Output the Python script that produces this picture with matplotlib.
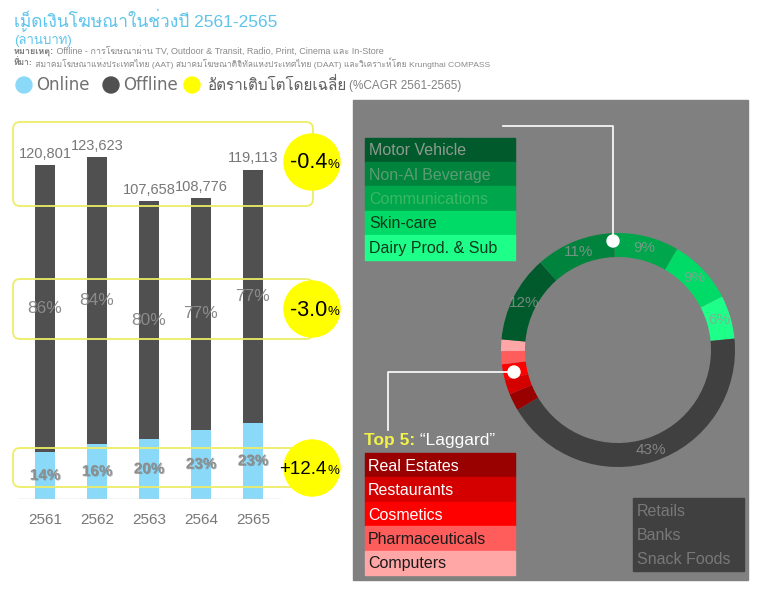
import numpy as np
import matplotlib
matplotlib.use('Agg')
import matplotlib.pyplot as plt
from matplotlib import font_manager
from matplotlib.patches import Rectangle, Circle, FancyBboxPatch
import matplotlib.patheffects as pe

# data
years = ['2561', '2562', '2563', '2564', '2565']
total = [120801, 123623, 107658, 108776, 119113]
online = [16912, 19780, 21532, 25018, 27396]
online_pct = ['14%', '16%', '20%', '23%', '23%']
offline_pct = ['86%', '84%', '80%', '77%', '77%']
cagr_main = ['-0.4', '-3.0', '+12.4']

donut_names = ['Communications', 'Skin-care', 'Dairy Prod. & Sub', 'Others',
               'Real Estates', 'Restaurants', 'Cosmetics', 'Pharmaceuticals',
               'Computers', 'Motor Vehicle', 'Non-Al Beverage']
donut_vals = [9, 9, 6, 43, 2.4, 2.0, 2.2, 1.8, 1.6, 12, 11]
donut_labels = ['9%', '9%', '6%', '43%', '', '', '', '', '', '12%', '11%']
donut_colors = ['#00a64b', '#00da66', '#1eff8a', '#404040', '#990000', '#d40000',
                '#ff0000', '#ff5c5c', '#ffa6a6', '#005a2b', '#00843d']

top_names = ['Motor Vehicle', 'Non-Al Beverage', 'Communications', 'Skin-care', 'Dairy Prod. & Sub']
top_colors = ['#005a2b', '#00843d', '#00a64b', '#00da66', '#1eff8a']
top_text = ['#8e9a90', '#5c9c72', '#3bb865', '#0c3a1c', '#0c3a1c']
lag_names = ['Real Estates', 'Restaurants', 'Cosmetics', 'Pharmaceuticals', 'Computers']
lag_colors = ['#990000', '#d40000', '#ff0000', '#ff5c5c', '#ffa6a6']
lag_text = ['white', 'white', 'white', '#1a1a1a', '#1a1a1a']
other_names = ['Retails', 'Banks', 'Snack Foods']


def find_thai_font():
    # pick any installed font that has Thai glyphs
    try:
        from fontTools.ttLib import TTFont
    except Exception:
        return None
    for f in font_manager.fontManager.ttflist:
        try:
            tt = TTFont(f.fname, fontNumber=0, lazy=True)
            if 0x0E01 in tt.getBestCmap():
                return f.name
        except Exception:
            pass
    return None

thai = find_thai_font()
fams = lambda first: [first] + ([thai] if thai else []) + ['DejaVu Sans']
SANS = fams('Liberation Sans')
DJV = fams('DejaVu Sans')
plt.rcParams['font.family'] = SANS

W, H = 762, 606
fig = plt.figure(figsize=(W / 100, H / 100), dpi=100)
fig.patch.set_facecolor('white')


def px_axes(x0, y0, x1, y1, z):
    ax = fig.add_axes([x0 / W, 1 - y1 / H, (x1 - x0) / W, (y1 - y0) / H], zorder=z)
    ax.set_facecolor('none')
    return ax


back = px_axes(0, 0, W, H, 0)
back.set_xlim(0, W)
back.set_ylim(H, 0)
back.axis('off')

# header
blue_t = '#5ec4ec'
back.text(14, 21, 'เม็ดเงินโฆษณาในช่วงปี 2561-2565', color=blue_t, fontsize=12.5, va='center')
back.text(14, 38, '(ล้านบาท)', color=blue_t, fontsize=9.5, va='center')
t1 = back.text(14, 52, 'หมายเหตุ:', color='#7a7a7a', fontsize=6.5, fontweight='bold', va='center')
back.annotate(' Offline - การโฆษณาผ่าน TV, Outdoor & Transit, Radio, Print, Cinema และ In-Store',
              xy=(1, 0.5), xycoords=t1, va='center', fontsize=6.5, color='#8a8a8a')
t2 = back.text(14, 63, 'ที่มา:', color='#7a7a7a', fontsize=6.1, fontweight='bold', va='center')
back.annotate(' สมาคมโฆษณาแห่งประเทศไทย (AAT) สมาคมโฆษณาดิจิทัลแห่งประเทศไทย (DAAT) และวิเคราะห์โดย Krungthai COMPASS',
              xy=(1, 0.5), xycoords=t2, va='center', fontsize=6.1, color='#8a8a8a')

# legend row
for cx, c in [(24, '#8ad9f8'), (111, '#505050'), (192, '#ffff00')]:
    back.add_patch(Circle((cx, 85), 8, color=c))
back.text(36, 85, 'Online', fontsize=12, color='#707070', va='center', family=DJV)
back.text(123, 85, 'Offline', fontsize=12, color='#707070', va='center', family=DJV)
back.text(208, 85, 'อัตราเติบโตโดยเฉลี่ย', fontsize=11, color='#606060', va='center')
back.text(349, 86, '(%CAGR 2561-2565)', fontsize=8.5, color='#808080', va='center')

# right panel background
back.add_patch(Rectangle((353, 100), 395, 480, color='#808080'))

# legends in the right panel
row = 24.4
for i, (n, c, tc) in enumerate(zip(top_names, top_colors, top_text)):
    y0 = 137.5 + i * row
    back.add_patch(Rectangle((365, y0), 150, row, color=c))
    back.text(369, y0 + row / 2 + 1, n, color=tc, fontsize=11.5, va='center')
for i, (n, c, tc) in enumerate(zip(lag_names, lag_colors, lag_text)):
    y0 = 453 + i * row
    back.add_patch(Rectangle((365, y0), 150, row, color=c))
    back.text(368, y0 + row / 2 + 1, n, color=tc, fontsize=11.5, va='center')
t3 = back.text(364, 440, 'Top 5:', color='#f2f24a', fontsize=12.5, fontweight='bold', va='center')
back.annotate(' \u201cLaggard\u201d', xy=(1, 0.5), xycoords=t3, va='center', fontsize=12.5, color='white')
back.add_patch(Rectangle((633, 498), 111, 73, color='#404040'))
for i, n in enumerate(other_names):
    back.text(637, 511 + i * 24.3, n, color='#787878', fontsize=11.5, va='center')

# bars
scale = 361.5
bx0, bx1, by0, by1 = 0, 354, 110, 499
ax = px_axes(bx0, by0, bx1, by1, 1)
x = np.arange(len(years))
offline = [t - o for t, o in zip(total, online)]
ax.bar(x, online, width=0.385, color='#8ad9f8')
ax.bar(x, offline, bottom=online, width=0.385, color='#505050')
ax.set_xlim(-45 / 52, (354 - 45) / 52)
ax.set_ylim(0, (by1 - by0) * scale)
for s in ax.spines.values():
    s.set_visible(False)
ax.set_yticks([])
ax.set_xticks(x, years)
ax.tick_params(axis='x', length=0, pad=10, labelsize=11, labelcolor='#777777')
ax.axhline(0, xmin=18 / 354, xmax=280 / 354, color='#cccccc', lw=1)
for i in range(len(years)):
    ax.annotate(f'{total[i]:,}', (x[i], total[i]), xytext=(0, 3), textcoords='offset points',
                ha='center', va='bottom', fontsize=10.5, color='#777777')
    ax.text(x[i], online[i] + offline[i] / 2, offline_pct[i], ha='center', va='center',
            fontsize=12.5, color='#8a8a8a')
    ax.text(x[i], online[i] / 2, online_pct[i], ha='center', va='center', fontsize=11,
            color='#8e8e8e', fontweight='bold',
            path_effects=[pe.withSimplePatchShadow(offset=(0.6, -0.6), shadow_rgbFace='#666666', alpha=0.5)])

# donut
cx, cy, r = 618, 350, 117
pax = px_axes(cx - r, cy - r, cx + r, cy + r, 2)
wedges, _ = pax.pie(donut_vals, colors=donut_colors, startangle=92, counterclock=False,
                    wedgeprops=dict(width=0.205, edgecolor='none'))
pax.set_xlim(-1, 1)
pax.set_ylim(-1, 1)
pax.set_aspect('equal')
for w, lab in zip(wedges, donut_labels):
    if lab:
        a = np.deg2rad((w.theta1 + w.theta2) / 2)
        pax.text(0.9 * np.cos(a), 0.9 * np.sin(a), lab, ha='center', va='center',
                 fontsize=11, color='#9a9a9a', alpha=0.75)

# front overlay: CAGR boxes, circles, pointer lines
front = px_axes(0, 0, W, H, 3)
front.set_xlim(0, W)
front.set_ylim(H, 0)
front.axis('off')
boxes = [(122, 206), (279, 339), (448, 487)]
centers = [162, 309, 468]
sizes = [15.5, 15.5, 13.5]
for (y0, y1), cyy, txt, fs in zip(boxes, centers, cagr_main, sizes):
    front.add_patch(FancyBboxPatch((13, y0), 300, y1 - y0, boxstyle='round,pad=0,rounding_size=7',
                                   fill=False, ec='#eded66', lw=1.3))
    front.add_patch(Circle((312, cyy), 28, color='#ffff00'))
    front.text(327, cyy + 1, txt, ha='right', va='center', fontsize=fs, color='black')
    front.text(327, cyy + 3, '%', ha='left', va='center', fontsize=9.5, color='black')
front.plot([503, 613, 613], [126, 126, 241], color='white', lw=1.2)
front.plot([514, 388, 388], [372, 372, 430], color='white', lw=1.2)
front.add_patch(Circle((613, 241), 6, color='white'))
front.add_patch(Circle((514, 372), 6, color='white'))

fig.savefig('out.png', dpi=100)
